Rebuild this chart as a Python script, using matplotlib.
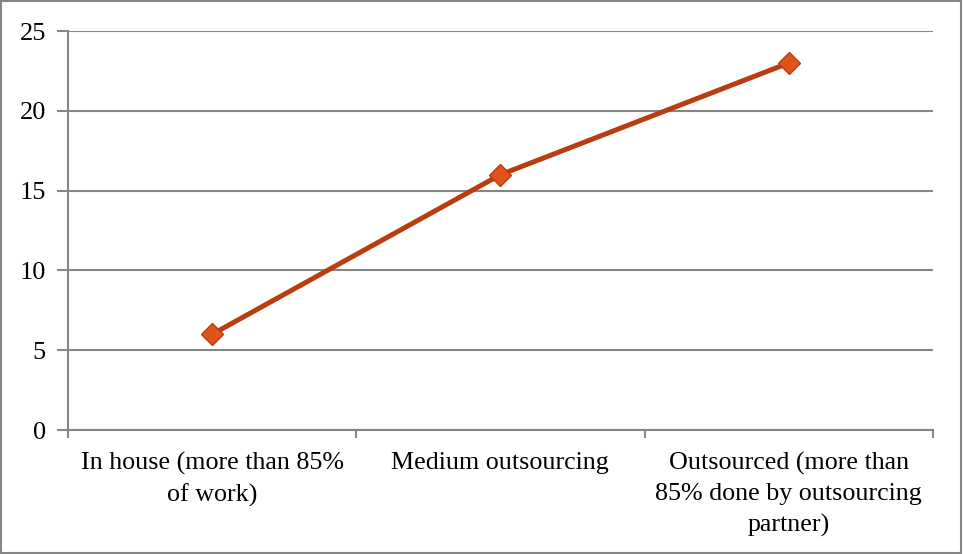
import matplotlib.pyplot as plt
from matplotlib.patches import Rectangle

# Data
categories = ['In house (more than 85%\nof work)',
              'Medium outsourcing',
              'Outsourced (more than\n85% done by outsourcing\npartner)']
values = [6, 16, 23]
y_ticks = [0, 5, 10, 15, 20, 25]

plt.rcParams['font.family'] = ['Liberation Serif', 'DejaVu Serif']

fig = plt.figure(figsize=(9.63, 5.54), dpi=100)
ax = fig.add_axes([0.0706, 0.2238, 0.898, 0.720])

# Figure border
fig.patches.append(Rectangle((0.001, 0.002), 0.997, 0.996, transform=fig.transFigure,
                             fill=False, edgecolor='#868686', linewidth=1.5))

x = [i + 0.5 for i in range(len(values))]
ax.plot(x, values, color='#B83E12', linewidth=3.6, marker='D', markersize=11.5,
        markerfacecolor='#E0541C', markeredgecolor='#B83E12', markeredgewidth=1,
        zorder=3)

ax.set_xlim(0, 3)
ax.set_ylim(0, 25)
ax.set_yticks(y_ticks)
ax.set_yticklabels([str(t) for t in y_ticks], fontsize=19)

# Category ticks at boundaries, labels at centers
ax.set_xticks([0, 1, 2, 3])
ax.set_xticklabels([])
ax.set_xticks(x, minor=True)
ax.set_xticklabels(categories, minor=True, fontsize=18.7, linespacing=1.48, va='top')
ax.tick_params(axis='x', which='minor', length=0, pad=16)
ax.tick_params(axis='x', which='major', length=6, width=1.5, color='#868686')
ax.tick_params(axis='y', length=8, width=1.5, color='#868686', pad=8)

ax.grid(axis='y', color='#868686', linewidth=1.5)
ax.set_axisbelow(True)
for s in ['top', 'right']:
    ax.spines[s].set_visible(False)
for s in ['left', 'bottom']:
    ax.spines[s].set_color('#868686')
    ax.spines[s].set_linewidth(1.5)

fig.savefig('out.png', dpi=100)
